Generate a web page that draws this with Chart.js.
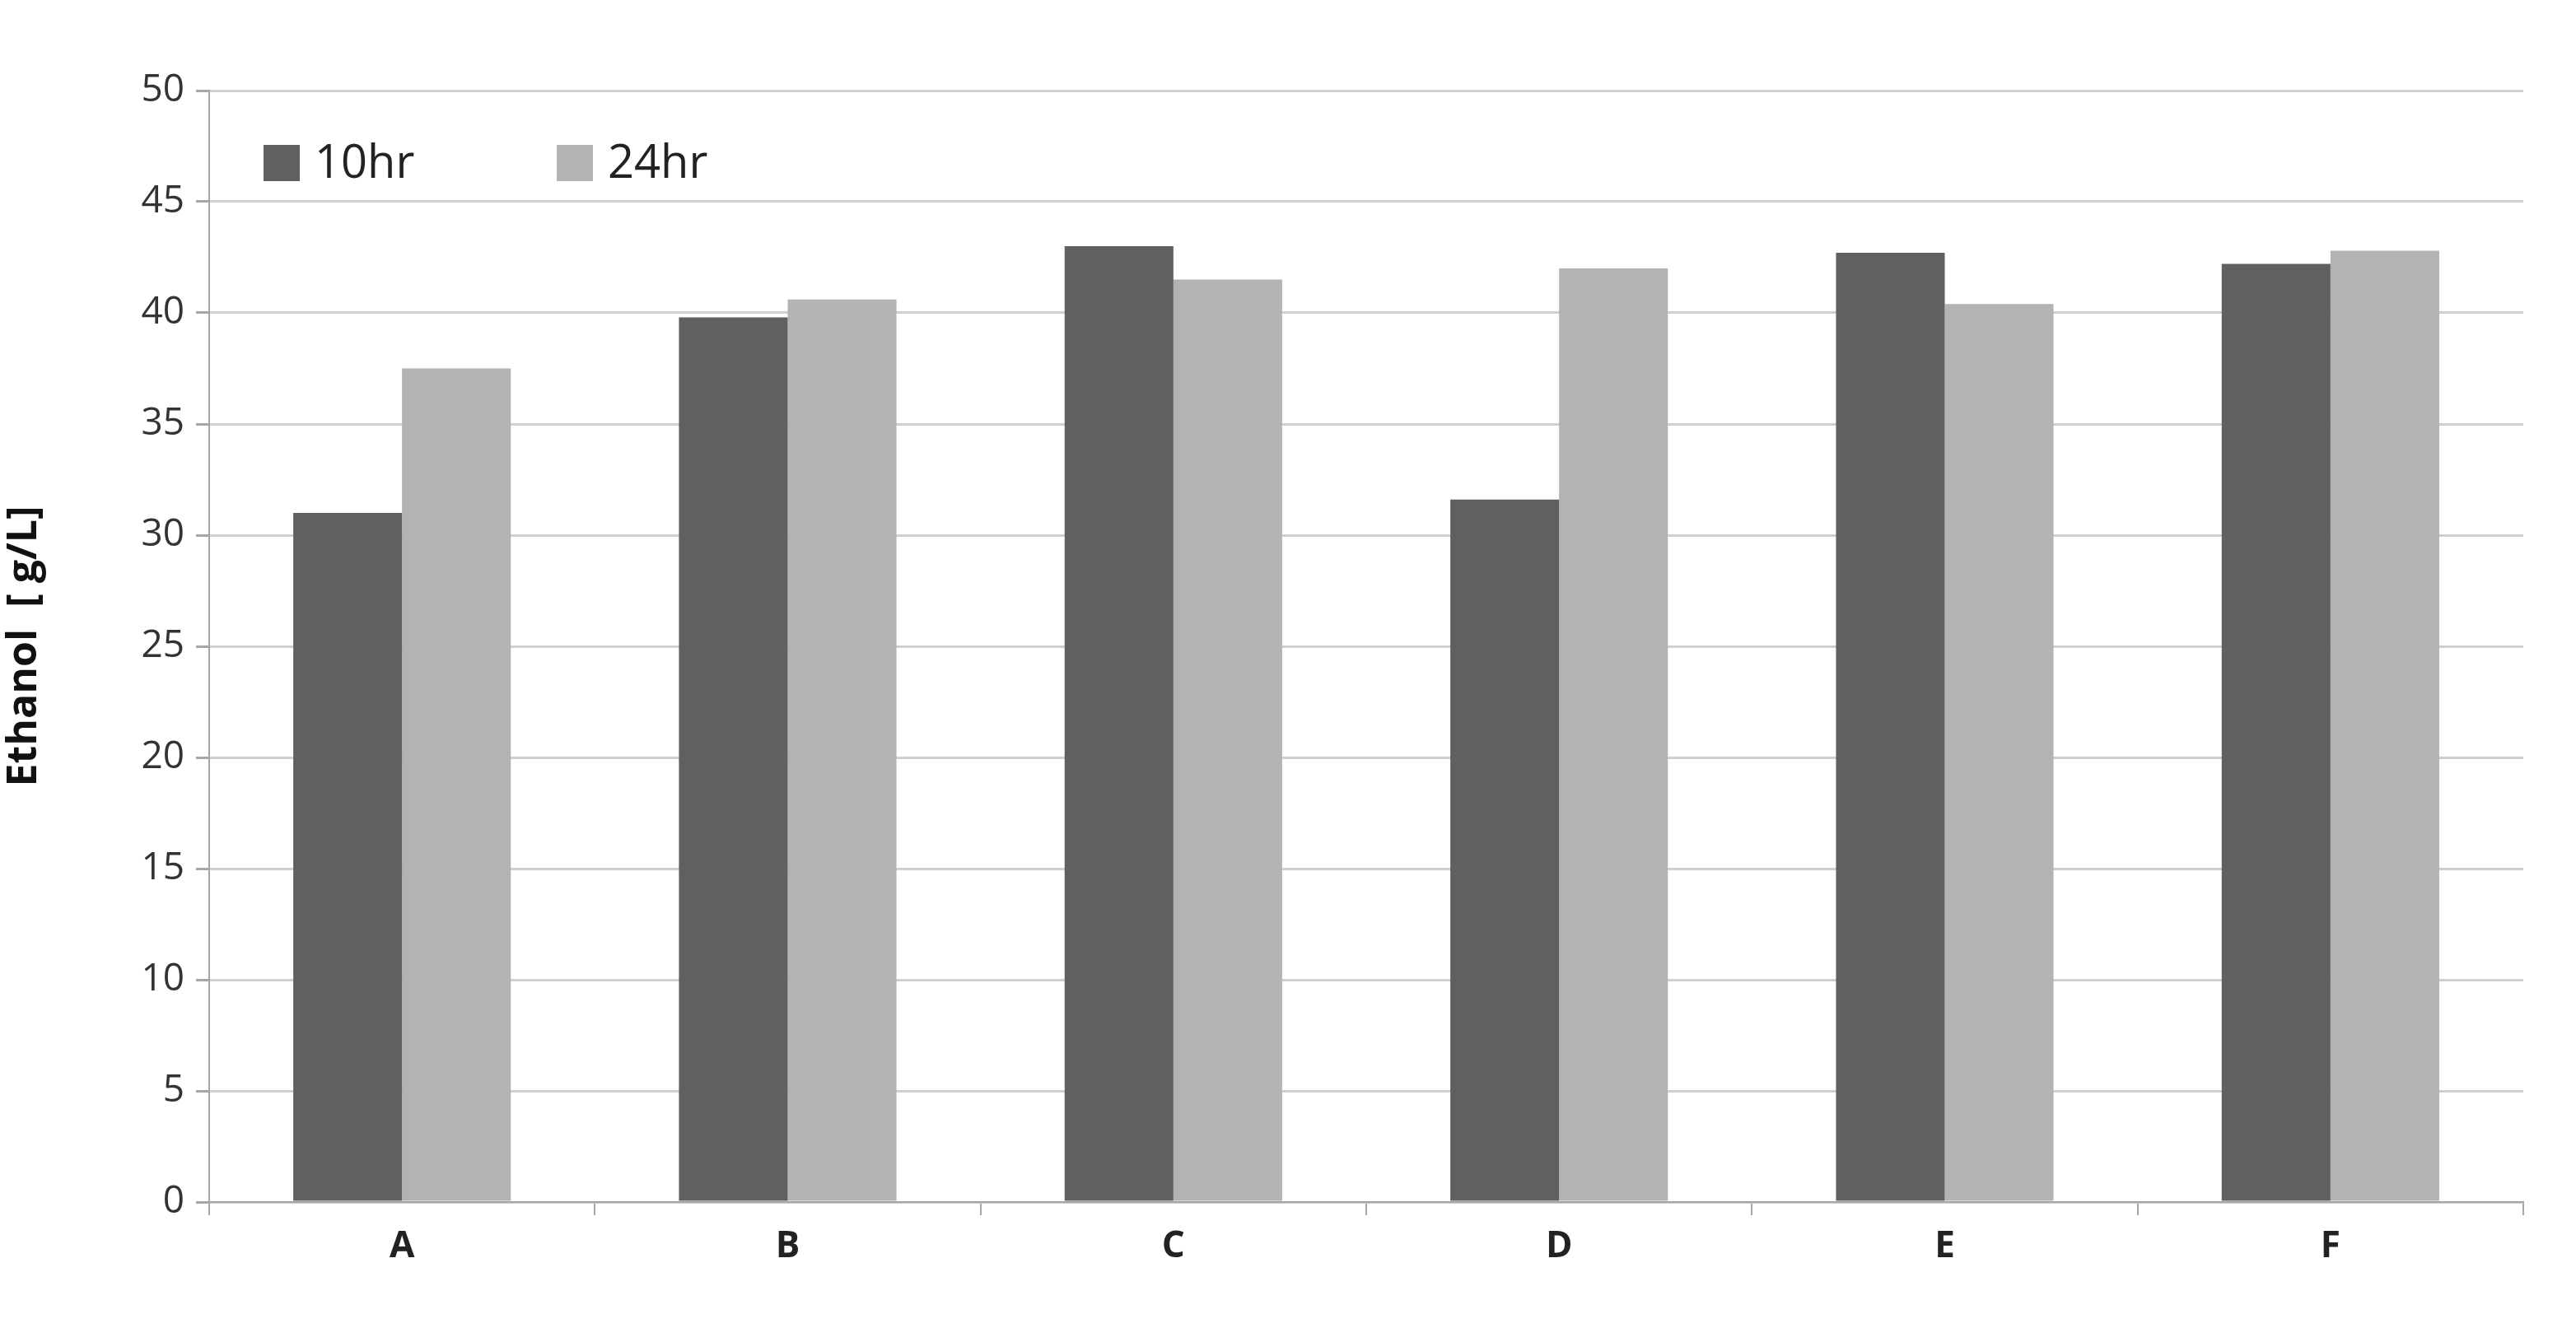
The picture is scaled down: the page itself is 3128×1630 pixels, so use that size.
<!DOCTYPE html>
<html>
<head>
<meta charset="utf-8">
<script src="https://cdn.jsdelivr.net/npm/chart.js@4"></script>
<style>
  html, body { margin: 0; padding: 0; background: #fff; }
  #wrap { width: 3128px; height: 1630px; }
</style>
</head>
<body>
<div id="wrap"><canvas id="chart"></canvas></div>
<script>
// Data
const categories = ['A', 'B', 'C', 'D', 'E', 'F'];
const values10hr = [31.0, 39.8, 43.0, 31.6, 42.7, 42.2];
const values24hr = [37.5, 40.6, 41.5, 42.0, 40.4, 42.8];
const seriesLabels = ['10hr', '24hr'];
const yTicks = [0, 5, 10, 15, 20, 25, 30, 35, 40, 45, 50];

const FONT = "'Open Sans', 'Liberation Sans', sans-serif";

// legend drawn inside the plot, top-left
const insideLegend = {
    id: 'insideLegend',
    afterDraw(chart) {
        const { ctx, chartArea } = chart;
        const offsets = [66, 422];
        ctx.save();
        ctx.font = '56px ' + FONT;
        ctx.textBaseline = 'middle';
        chart.data.datasets.forEach((ds, i) => {
            const x = chartArea.left + offsets[i];
            const y = chartArea.top + 88;
            ctx.fillStyle = ds.backgroundColor;
            ctx.fillRect(x, y - 22, 44, 44);
            ctx.fillStyle = '#222';
            ctx.fillText(ds.label, x + 62, y + 2);
        });
        ctx.restore();
    }
};

const ctx = document.getElementById('chart').getContext('2d');
new Chart(ctx, {
    type: 'bar',
    data: {
        labels: categories,
        datasets: [
            { label: seriesLabels[0], data: values10hr, backgroundColor: '#606060' },
            { label: seriesLabels[1], data: values24hr, backgroundColor: '#b3b3b3' }
        ]
    },
    options: {
        responsive: true,
        maintainAspectRatio: false,
        animation: false,
        layout: { padding: { top: 110, right: 64, left: 0, bottom: 0 } },
        datasets: { bar: { categoryPercentage: 0.564, barPercentage: 1.0 } },
        plugins: { legend: { display: false }, tooltip: { enabled: false } },
        scales: {
            x: {
                afterFit(scale) { scale.height = 170; },
                grid: { offset: true, drawOnChartArea: false, color: '#a6a6a6', tickLength: 16, lineWidth: 2 },
                border: { color: '#a6a6a6', width: 2 },
                ticks: { color: '#222', font: { family: FONT, size: 44, weight: 'bold' }, padding: 12 }
            },
            y: {
                min: 0,
                max: 50,
                afterFit(scale) { scale.width = 254; },
                afterBuildTicks(scale) { scale.ticks = yTicks.map(v => ({ value: v })); },
                grid: { color: '#cfcfcf', lineWidth: 3, tickLength: 16, tickColor: '#a6a6a6' },
                border: { color: '#a6a6a6', width: 2 },
                ticks: { color: '#333', font: { family: FONT, size: 46 }, padding: 14 },
                title: {
                    display: true,
                    text: 'Ethanol  [ g/L]',
                    color: '#111',
                    font: { family: FONT, size: 50, weight: 'bold' },
                    padding: { top: 0, bottom: 20 }
                }
            }
        }
    },
    plugins: [insideLegend]
});
</script>
</body>
</html>
